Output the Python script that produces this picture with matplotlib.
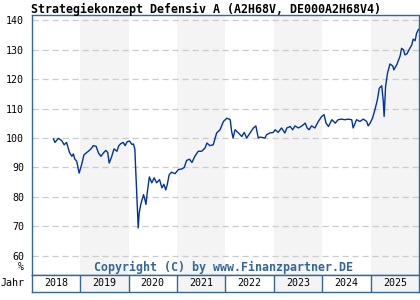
import matplotlib
matplotlib.use("Agg")
from matplotlib import pyplot as plt

# fund price series (fractional year, value in %)
t = [2018.45, 2018.48, 2018.55, 2018.62, 2018.67, 2018.72, 2018.78, 2018.83, 2018.86,
     2018.89, 2018.93, 2018.98, 2019.03, 2019.08, 2019.14, 2019.19, 2019.24, 2019.27,
     2019.33, 2019.38, 2019.43, 2019.48, 2019.53, 2019.57, 2019.60, 2019.65, 2019.70,
     2019.76, 2019.80, 2019.84, 2019.89, 2019.93, 2019.97, 2020.02, 2020.07, 2020.10,
     2020.13, 2020.17, 2020.20, 2020.22, 2020.25, 2020.31, 2020.34, 2020.36, 2020.39,
     2020.43, 2020.48, 2020.53, 2020.58, 2020.64, 2020.69, 2020.73, 2020.77, 2020.80,
     2020.84, 2020.89, 2020.96, 2021.03, 2021.10, 2021.15, 2021.20, 2021.26, 2021.31,
     2021.37, 2021.44, 2021.51, 2021.58, 2021.62, 2021.68, 2021.75, 2021.82, 2021.89,
     2021.96, 2022.03, 2022.08, 2022.10, 2022.13, 2022.16, 2022.20, 2022.27, 2022.34,
     2022.39, 2022.44, 2022.51, 2022.58, 2022.63, 2022.68, 2022.72, 2022.82, 2022.85,
     2022.92, 2022.99, 2023.03, 2023.09, 2023.16, 2023.23, 2023.27, 2023.34, 2023.39,
     2023.44, 2023.51, 2023.58, 2023.65, 2023.69, 2023.73, 2023.78, 2023.85, 2023.92,
     2023.99, 2024.04, 2024.08, 2024.13, 2024.20, 2024.27, 2024.33, 2024.40, 2024.47,
     2024.54, 2024.61, 2024.64, 2024.71, 2024.78, 2024.85, 2024.92, 2024.95, 2024.99,
     2025.04, 2025.09, 2025.14, 2025.18, 2025.23, 2025.26, 2025.28, 2025.31, 2025.35,
     2025.40, 2025.46, 2025.48, 2025.54, 2025.61, 2025.64, 2025.68, 2025.71, 2025.75,
     2025.81, 2025.85, 2025.88, 2025.92, 2025.95, 2025.99]
v = [99.7, 98.5, 99.9, 99.1, 97.7, 98.5, 95.1, 93.8, 94.6,
     92.9, 92.1, 88.1, 90.9, 94.3, 95.1, 95.8, 96.6, 97.4,
     97.2, 94.9, 93.8, 94.9, 95.8, 95.1, 91.5, 93.6, 96.3,
     95.5, 97.4, 98.1, 98.5, 97.4, 98.7, 99.0, 97.8, 98.0,
     96.3, 80.8, 69.5, 74.5, 77.3, 80.8, 79.0, 77.5, 81.9,
     86.8, 84.8, 86.5, 84.8, 85.9, 83.1, 84.3, 82.4, 84.2,
     87.6, 88.4, 87.9, 89.3, 89.5, 90.0, 92.4, 92.8, 91.7,
     93.8, 95.5, 95.5, 96.6, 98.3, 97.4, 97.7, 101.7, 102.8,
     105.6, 106.7, 106.4, 106.2, 102.2, 100.0, 102.8, 101.7, 100.5,
     101.9, 100.0, 101.7, 103.4, 104.1, 100.0, 100.3, 100.0, 101.1,
     101.7, 101.9, 102.8, 101.9, 103.4, 101.7, 103.4, 103.9, 102.8,
     104.1, 103.4, 104.1, 105.05, 103.4, 102.8, 104.1, 103.4, 105.6,
     107.3, 107.9, 105.05, 103.9, 106.2, 105.05, 106.2, 106.4, 106.2,
     106.4, 106.2, 103.4, 106.2, 105.6, 106.4, 105.6, 104.1, 105.05,
     106.7, 109.6, 112.9, 116.9, 117.7, 112.9, 107.3, 117.5, 122.0,
     125.1, 124.4, 123.1, 124.8, 127.8, 130.4, 129.9, 128.2, 128.5,
     130.4, 131.5, 133.5, 133.0, 135.5, 136.8]

years = [2018, 2019, 2020, 2021, 2022, 2023, 2024, 2025]
yticks = [60, 70, 80, 90, 100, 110, 120, 130, 140]

frame = "#336699"
band = "#f4f4f4"
line = "#0033a0"
mono = "DejaVu Sans Mono"

fig = plt.figure(figsize=(4.2, 3.0), dpi=100)
ax = fig.add_axes([0.0755, 0.0833, 0.9221, 0.8667])
axy = fig.add_axes([0.0755, 0.0267, 0.9221, 0.0567], sharex=ax)

for a in (ax, axy):
    for yr in years[1::2]:
        a.axvspan(yr, yr + 1, color=band, lw=0, zorder=0)
    for s in a.spines.values():
        s.set_color(frame)
        s.set_linewidth(1.0)

for yt in yticks:
    ax.axhline(yt, color="#cccccc", lw=0.9, ls=(0, (5, 3)), zorder=1)

ax.plot(t, v, color=line, lw=1.0, zorder=3)
ax.set_xlim(2018, 2026)
ax.set_ylim(53.55, 141.7)
ax.set_yticks(yticks)
ax.set_yticklabels([str(y) for y in yticks], fontfamily=mono, fontsize=7.2)
ax.tick_params(axis="y", length=0, pad=5.5)
ax.tick_params(axis="x", length=0, labelbottom=False)

# year row below the chart
for yr in years[1:]:
    axy.axvline(yr, color=frame, lw=1.0)
for yr in years:
    axy.text(yr + 0.5, 0.5, str(yr), ha="center", va="center",
             fontfamily=mono, fontsize=7.2, transform=axy.get_xaxis_transform())
axy.set_yticks([])
axy.tick_params(axis="x", length=0, labelbottom=False)

fig.text(0.002, 0.0267 + 0.0283, "Jahr", ha="left", va="center",
         fontfamily=mono, fontsize=7.2)
fig.text(0.057, 0.109, "%", ha="right", va="center", fontfamily=mono, fontsize=7.2)
fig.text(0.074, 0.968, "Strategiekonzept Defensiv A (A2H68V, DE000A2H68V4)",
         ha="left", va="center", fontfamily=mono, fontweight="bold", fontsize=8.4)
ax.text(0.495, 0.03, "Copyright (C) by www.Finanzpartner.DE", transform=ax.transAxes,
        ha="center", va="center", fontfamily=mono, fontweight="bold",
        fontsize=8.4, color=frame, zorder=4)

fig.savefig("out.png", dpi=100)
